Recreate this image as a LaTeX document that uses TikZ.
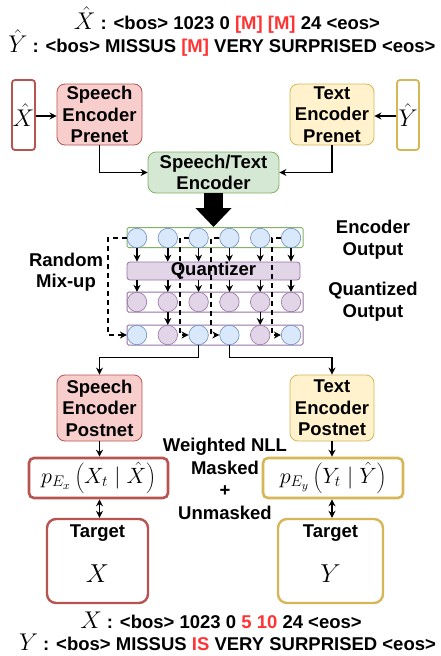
\documentclass[tikz,border=0pt]{standalone}
\usepackage{graphicx}
\usepackage{fontspec}
\setmainfont{Liberation Sans}
\usetikzlibrary{arrows.meta,calc}
\definecolor{pinkF}{HTML}{F8CECC}\definecolor{pinkD}{HTML}{B85450}
\definecolor{yelF}{HTML}{FFF2CC}\definecolor{yelD}{HTML}{D6B656}
\definecolor{grnF}{HTML}{D5E8D4}\definecolor{grnD}{HTML}{82B366}
\definecolor{bluF}{HTML}{DAE8FC}\definecolor{bluD}{HTML}{6C8EBF}
\definecolor{purF}{HTML}{E1D5E7}\definecolor{purD}{HTML}{9673A6}
\definecolor{redT}{HTML}{FF3333}
\newcommand{\mysym}[1]{\scalebox{1.4}{$#1$}}
\begin{document}
\begin{tikzpicture}[x=1pt,y=-1pt,
  font=\fontsize{18.5}{21.5}\selectfont\bfseries,
  box/.style={draw, rounded corners=8pt, align=center, inner sep=0pt, line width=0.8pt},
  circ/.style={circle, draw, minimum size=19.5pt, inner sep=0pt, line width=0.6pt},
  rowbox/.style={draw, fill=white, rounded corners=1.5pt, minimum width=176pt, minimum height=20pt, inner sep=0pt, line width=1pt},
  arr/.style={-{Stealth[length=7pt,width=7pt]}, line width=1.5pt},
  darr/.style={{Stealth[length=7pt,width=7pt]}-{Stealth[length=7pt,width=7pt]}, line width=1.5pt},
  sarr/.style={-{Stealth[length=7pt,width=7pt]}, line width=1.4pt},
  dsh/.style={-{Stealth[length=7pt,width=7pt]}, line width=1.4pt, dash pattern=on 5pt off 4pt},
  lbl/.style={align=center, inner sep=0pt},
  mathbox/.style={draw, rounded corners=5pt, fill=white, line width=2.6pt, inner sep=0pt},
  ]
\useasboundingbox (0,0) rectangle (440,656);

% top texts
\node[lbl] (t1) at (227,20) {\mysym{\hat{X}} : <bos> 1023 0 \textcolor{redT}{[M] [M]} 24 <eos>};
\node[lbl] (t2) at (222,43) {\mysym{\hat{Y}} : <bos> MISSUS \textcolor{redT}{[M]} VERY SURPRISED <eos>};

% input boxes
\node[draw=pinkD, line width=1.8pt, rounded corners=3pt, minimum width=23pt, minimum height=70pt, inner sep=0pt] (xh) at (23.5,115) {\mysym{\hat{X}}};
\node[draw=yelD, line width=1.8pt, rounded corners=3pt, minimum width=22pt, minimum height=70pt, inner sep=0pt] (yh) at (408,115) {\mysym{\hat{Y}}};

\node[box, draw=pinkD, fill=pinkF, minimum width=85pt, minimum height=61pt] (sep) at (99.5,114.5) {Speech\\Encoder\\Prenet};
\node[box, draw=yelD, fill=yelF, minimum width=84pt, minimum height=61pt] (tep) at (332,114.5) {Text\\Encoder\\Prenet};
\node[box, draw=grnD, fill=grnF, minimum width=131pt, minimum height=41pt] (enc) at (213.5,172.5) {Speech/Text\\Encoder};

\draw[arr] (xh.east |- 0,116) -- (sep.west |- 0,116);
\draw[arr] (yh.west |- 0,116) -- (tep.east |- 0,116);
\draw[arr] (sep.south) |- (enc.west);
\draw[arr] (tep.south) |- (enc.east);

% rows
\node[rowbox, draw=grnD] (r1) at (215,237.5) {};
\node[box, draw=purD, fill=purF, rounded corners=3pt, minimum width=173pt, minimum height=18pt] (q) at (213.5,271) {Quantizer};
\node[rowbox, draw=purD] (r2) at (215,302) {};
\node[rowbox, draw=purD] (r3) at (215,335) {};

\draw[line width=19pt, -{Triangle[length=19pt,width=35pt]}] (enc.south) -- (enc.south |- r1.north);

\foreach \i in {1,...,6}{
  \pgfmathsetmacro\cx{137+30.8*(\i-1)}
  \node[circ, draw=bluD, fill=bluF] (a\i) at (\cx,238) {};
  \node[circ, draw=purD, fill=purF] (b\i) at (\cx,302) {};
}
\foreach \i/\fc/\dc in {1/bluF/bluD,2/purF/purD,3/bluF/bluD,4/bluF/bluD,5/purF/purD,6/bluF/bluD}{
  \pgfmathsetmacro\cx{137+30.8*(\i-1)}
  \node[circ, draw=\dc, fill=\fc] (m\i) at (\cx,335) {};
}
\foreach \i in {1,...,6}{
  \draw[sarr] (a\i.south) -- (a\i.south |- q.north);
  \draw[sarr] (q.south -| b\i) -- (b\i.north);
}
\draw[sarr] (b2.south) -- (m2.north);
\draw[sarr] (b5.south) -- (m5.north);

% random mix-up dashed
\draw[dsh] (a1.west) -- ++(-19,0) |- (m1.west);
\draw[dsh] (a3.west) -- ++(-8.6,0) |- (m3.west);
\draw[dsh] (a4.west) -- ++(-8.4,0) |- (m4.west);
\draw[dsh] (a6.west) -- ++(-9,0) |- (m6.west);

\node[lbl] (rm) at (66,272) {Random\\Mix-up};
\node[lbl] (eo) at (373,239.5) {Encoder\\Output};
\node[lbl] (qo) at (373,301.5) {Quantized\\Output};

% postnets
\node[box, draw=pinkD, fill=pinkF, minimum width=85pt, minimum height=66pt] (spo) at (99.5,408) {Speech\\Encoder\\Postnet};
\node[box, draw=yelD, fill=yelF, minimum width=84pt, minimum height=66pt] (tpo) at (332,408) {Text\\Encoder\\Postnet};

\draw[arr] (m3.south) |- ($(spo.north)+(0,-17)$) -- (spo.north);
\draw[arr] (m4.south) |- ($(tpo.north)+(0,-17)$) -- (tpo.north);

% probability boxes
\node[mathbox, draw=pinkD, minimum width=139pt, minimum height=40pt] (pl) at (98.5,478) {\scalebox{1.28}{$p_{E_x}\left(X_t \mid \hat{X}\right)$}};
\node[mathbox, draw=yelD, minimum width=140pt, minimum height=40pt] (pr) at (333,478) {\scalebox{1.28}{$p_{E_y}\left(Y_t \mid \hat{Y}\right)$}};
\draw[arr] (spo.south) -- (pl.north -| spo.south);
\draw[arr] (tpo.south) -- (pr.north -| tpo.south);

\node[lbl, font=\fontsize{18.5}{22.7}\selectfont\bfseries] (nll) at (225,479) {Weighted NLL\\Masked\\+\\Unmasked};

% targets
\node[mathbox, draw=pinkD, rounded corners=9pt, line width=2.4pt, minimum width=101pt, minimum height=84pt] (tl) at (97.5,561) {};
\node[mathbox, draw=yelD, rounded corners=9pt, line width=2.4pt, minimum width=105pt, minimum height=84pt] (tr) at (330.5,561) {};
\node[lbl] (tlt) at (97.5,533) {Target};
\node[lbl] (trt) at (330.5,533) {Target};
\node[lbl] (tlx) at (97.5,574) {\scalebox{1.5}{$X$}};
\node[lbl] (trx) at (330.5,574) {\scalebox{1.5}{$Y$}};
\draw[darr] (pl.south -| spo.south) -- (tl.north -| spo.south);
\draw[darr] (pr.south -| tpo.south) -- (tr.north -| tpo.south);

% bottom texts
\node[lbl] (b1t) at (221,620) {\mysym{X} : <bos> 1023 0 \textcolor{redT}{5 10} 24 <eos>};
\node[lbl] (b2t) at (227.5,642) {\mysym{Y} : <bos> MISSUS \textcolor{redT}{IS} VERY SURPRISED <eos>};
\end{tikzpicture}
\end{document}
